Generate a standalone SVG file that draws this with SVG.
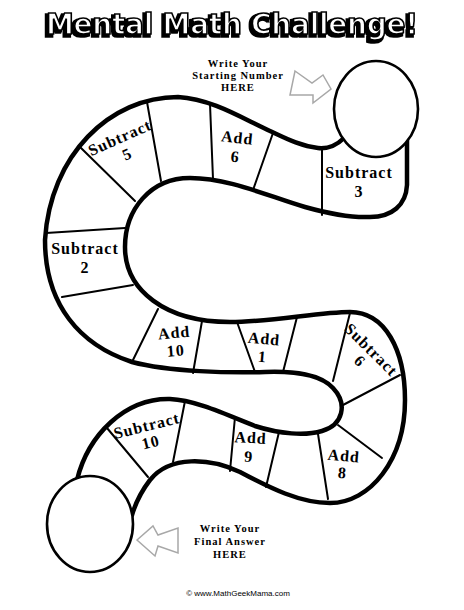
<svg xmlns="http://www.w3.org/2000/svg" width="464" height="610" viewBox="0 0 464 610">
<defs>
<filter id="shadow" x="-5%" y="-30%" width="110%" height="160%">
<feMorphology in="SourceAlpha" operator="dilate" radius="0.8" result="d"/>
<feOffset in="d" dx="-1.8" dy="2.4" result="o"/>
<feFlood flood-color="#000"/>
<feComposite in2="o" operator="in" result="s"/>
<feMerge><feMergeNode in="s"/><feMergeNode in="SourceGraphic"/></feMerge>
</filter>
</defs>
<style>
.edge{fill:none;stroke:#000;stroke-width:4.5;stroke-linecap:round;stroke-linejoin:round}
.circ{fill:#fff;stroke:#000;stroke-width:2.6}
.div{stroke:#000;stroke-width:2;stroke-linecap:round}
.lbl{font-family:"Liberation Serif","Times New Roman",serif;font-weight:bold;font-size:16px;letter-spacing:1px;text-anchor:middle;fill:#000}
.ins{font-family:"Liberation Serif","Times New Roman",serif;font-weight:bold;font-size:10.5px;letter-spacing:1px;text-anchor:middle;fill:#000}
.arr{fill:#fff;stroke:#a8a8a8;stroke-width:1.5;stroke-linejoin:miter}
.ttl{font-family:"DejaVu Sans",sans-serif;font-weight:bold;font-size:28px;text-anchor:middle}
</style>
<rect width="464" height="610" fill="#fff"/>

<g id="title" filter="url(#shadow)">
<text class="ttl" x="232" y="34" fill="#fff" stroke="#000" stroke-width="1.6" textLength="372" lengthAdjust="spacing">Mental Math Challenge!</text>
</g>

<g id="snake-body">
<path class="edge" d="M 344 138 C 336 146, 328 149, 318 148 C 300 146, 285 138, 270 131 C 245 120, 213 99, 178 97 C 110 97, 50 155, 45 240 C 45 305, 80 345, 132 362 C 170 372, 230 373, 265 372 C 295 371, 320 374, 333 388 C 348 404, 343 425, 322 431 C 305 436, 280 434, 255 426 C 225 414, 195 400, 170 399 C 125 398, 88 435, 77 480"/>
<path class="edge" d="M 407 140 L 407 185 C 406 205, 392 217, 370 217 C 350 218, 330 214, 305 207 C 270 197, 230 178, 190 178 C 150 178, 125 210, 125 247 C 125 290, 165 322, 230 322 C 270 322, 320 312, 350 312 C 385 312, 405 350, 405 400 C 405 460, 370 503, 330 503 C 300 503, 270 488, 240 472 C 210 458, 170 455, 150 480 C 140 493, 135 505, 132 515"/>
</g>

<g id="dividers">
<line class="div" x1="322" y1="148" x2="322" y2="215"/>
<line class="div" x1="273" y1="133" x2="253" y2="190"/>
<line class="div" x1="210" y1="104" x2="213" y2="179"/>
<line class="div" x1="147" y1="102" x2="161" y2="181"/>
<line class="div" x1="80" y1="147" x2="135" y2="201"/>
<line class="div" x1="46" y1="233" x2="125" y2="228"/>
<line class="div" x1="62" y1="297" x2="133" y2="285"/>
<line class="div" x1="158" y1="309" x2="132" y2="362"/>
<line class="div" x1="202" y1="321" x2="193" y2="373"/>
<line class="div" x1="237" y1="322" x2="255" y2="372"/>
<line class="div" x1="297" y1="317" x2="283" y2="372"/>
<line class="div" x1="350" y1="313" x2="333" y2="381"/>
<line class="div" x1="400" y1="375" x2="343" y2="405"/>
<line class="div" x1="338" y1="425" x2="382" y2="458"/>
<line class="div" x1="318" y1="434" x2="328" y2="499"/>
<line class="div" x1="279" y1="432" x2="266" y2="487"/>
<line class="div" x1="235" y1="417" x2="230" y2="471"/>
<line class="div" x1="185" y1="401" x2="173" y2="462"/>
<line class="div" x1="107" y1="428" x2="148" y2="477"/>
</g>

<g id="start-circle"><ellipse class="circ" cx="376" cy="109" rx="42" ry="48"/></g>
<g id="end-circle"><ellipse class="circ" cx="90" cy="524" rx="43" ry="48"/></g>

<g id="cell-subtract-3"><text class="lbl" x="359" y="178">Subtract</text><text class="lbl" x="359" y="197">3</text></g>
<g id="cell-add-6" transform="rotate(6 236 150)"><text class="lbl" x="236" y="143">Add</text><text class="lbl" x="236" y="162">6</text></g>
<g id="cell-subtract-5" transform="rotate(-24 120 138)"><text class="lbl" x="120" y="143">Subtract</text><text class="lbl" x="120" y="161">5</text></g>
<g id="cell-subtract-2"><text class="lbl" x="85" y="254">Subtract</text><text class="lbl" x="85" y="273">2</text></g>
<g id="cell-add-10" transform="rotate(-5 175 343)"><text class="lbl" x="175" y="338">Add</text><text class="lbl" x="175" y="356">10</text></g>
<g id="cell-add-1" transform="rotate(5 262 350)"><text class="lbl" x="263" y="344">Add</text><text class="lbl" x="263" y="362">1</text></g>
<g id="cell-subtract-6" transform="rotate(45 371 350)"><text class="lbl" x="371" y="355">Subtract</text><text class="lbl" x="371" y="371">6</text></g>
<g id="cell-add-8" transform="rotate(5 342 465)"><text class="lbl" x="343" y="461">Add</text><text class="lbl" x="343" y="478">8</text></g>
<g id="cell-add-9" transform="rotate(3 249 450)"><text class="lbl" x="250" y="443">Add</text><text class="lbl" x="249" y="462">9</text></g>
<g id="cell-subtract-10" transform="rotate(-14 147 427)"><text class="lbl" x="147" y="431">Subtract</text><text class="lbl" x="147" y="448">10</text></g>

<g id="start-note">
<text class="ins" x="238" y="67">Write Your</text>
<text class="ins" x="238" y="79">Starting Number</text>
<text class="ins" x="238" y="91">HERE</text>
</g>
<g id="end-note">
<text class="ins" x="230" y="532">Write Your</text>
<text class="ins" x="230" y="545">Final Answer</text>
<text class="ins" x="230" y="558">HERE</text>
</g>

<g id="connectors">
<polygon class="arr" points="295,71 312,83 323,75 331,89 313,103 313,95 290,95"/>
<polygon class="arr" points="137,540 153,526 158,535 178,528 178,553 158,546 155,556"/>
</g>

<g id="footer">
<text x="238" y="596" font-family="Liberation Sans, Arial, sans-serif" font-size="8" text-anchor="middle" fill="#000">© www.MathGeekMama.com</text>
</g>
</svg>
